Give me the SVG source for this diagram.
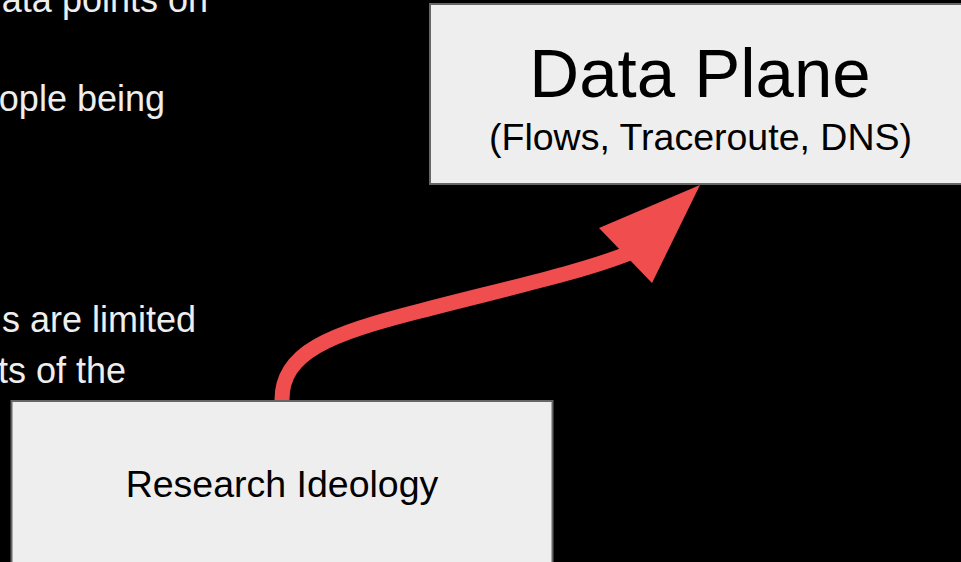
<svg xmlns="http://www.w3.org/2000/svg" width="961" height="562" viewBox="0 0 961 562">
<style>
.bg{fill:#000}
.box{fill:#eeeeee;stroke:#666666;stroke-width:2}
.t{font-family:"Liberation Sans",Arial,sans-serif;fill:#000;text-anchor:middle}
.side{font-family:"Liberation Sans",Arial,sans-serif;fill:#eeeeee;font-size:36px;text-anchor:end}
.conn{fill:none;stroke:#f04e4e;stroke-width:15}
.head{fill:#f04e4e}
</style>
<rect class="bg" x="0" y="0" width="961" height="562"/>
<g id="side-text">
<text class="side" x="208" y="12">ata points on</text>
<text class="side" x="165" y="111">ople being</text>
<text class="side" x="196" y="332">s are limited</text>
<text class="side" x="126" y="383">ts of the</text>
</g>
<g id="connectors">
<path class="conn" d="M282,401 C281,352 330,334 420,311 C500,290 580,273 632,252"/>
<polygon class="head" points="700,185 599,228 652,283"/>
</g>
<g id="node-data-plane">
<rect class="box" x="430" y="4" width="560" height="180"/>
<text class="t" x="700" y="97" font-size="69">Data Plane</text>
<text class="t" x="700.5" y="150" font-size="37.5">(Flows, Traceroute, DNS)</text>
</g>
<g id="node-research-ideology">
<rect class="box" x="11.5" y="401" width="541" height="200"/>
<text class="t" x="282" y="497" font-size="37.5">Research Ideology</text>
</g>
</svg>
